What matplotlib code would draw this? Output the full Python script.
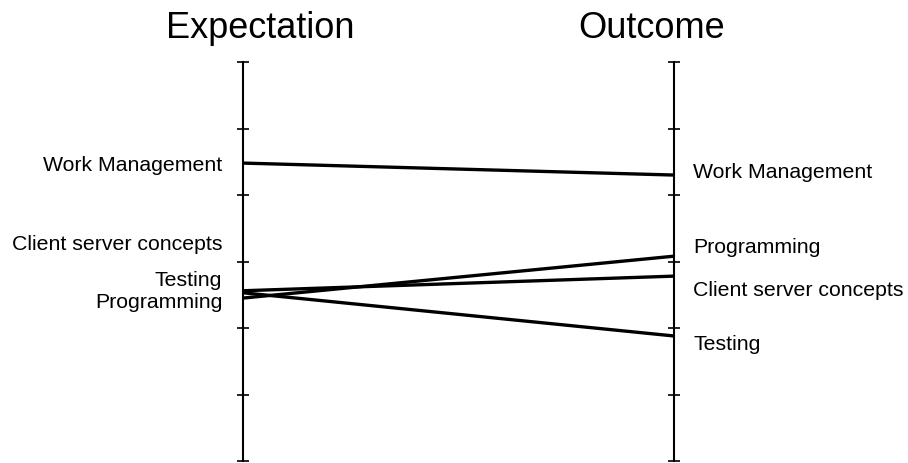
import matplotlib.pyplot as plt

plt.rcParams['font.family'] = ['Liberation Sans', 'DejaVu Sans']

# data: rating before (expectation) and after (outcome)
topics = ['Work Management', 'Client server concepts', 'Testing', 'Programming']
expectation = [4.48, 2.56, 2.53, 2.45]
outcome = [4.30, 2.78, 1.88, 3.08]
columns = ['Expectation', 'Outcome']

# label baselines (shifted so the names do not overlap)
left_label_y = [4.38, 3.19, 2.65, 2.31]
right_label_y = [4.27, 2.49, 1.68, 3.14]

fig = plt.figure(figsize=(9.08, 4.64), dpi=100)
ax = fig.add_axes([243 / 908, 2 / 464, 431 / 908, 399 / 464])

for name, a, b in zip(topics, expectation, outcome):
    ax.plot([0, 1], [a, b], color='black', lw=2.4, clip_on=False,
            solid_capstyle='butt')

for name, y in zip(topics, left_label_y):
    ax.annotate(name, xy=(0, y), xytext=(-15, 0), textcoords='offset points',
                ha='right', va='baseline', fontsize=15.3)
for name, y in zip(topics, right_label_y):
    ax.annotate(name, xy=(1, y), xytext=(14, 0), textcoords='offset points',
                ha='left', va='baseline', fontsize=15.3)

ax.set_xlim(0, 1)
ax.set_ylim(0, 6)
ax.set_yticks(range(7))
ax.set_xticks([])
ax.tick_params(axis='y', left=True, right=True, direction='inout',
               length=8, width=1.2, labelleft=False, labelright=False)
ax.spines['top'].set_visible(False)
ax.spines['bottom'].set_visible(False)
ax.spines['left'].set_linewidth(1.5)
ax.spines['right'].set_linewidth(1.5)

fig.text(260 / 908, 1 - 38 / 464, columns[0], ha='center', va='baseline', fontsize=26)
fig.text(652 / 908, 1 - 38 / 464, columns[1], ha='center', va='baseline', fontsize=26)

fig.savefig('out.png', dpi=100)
